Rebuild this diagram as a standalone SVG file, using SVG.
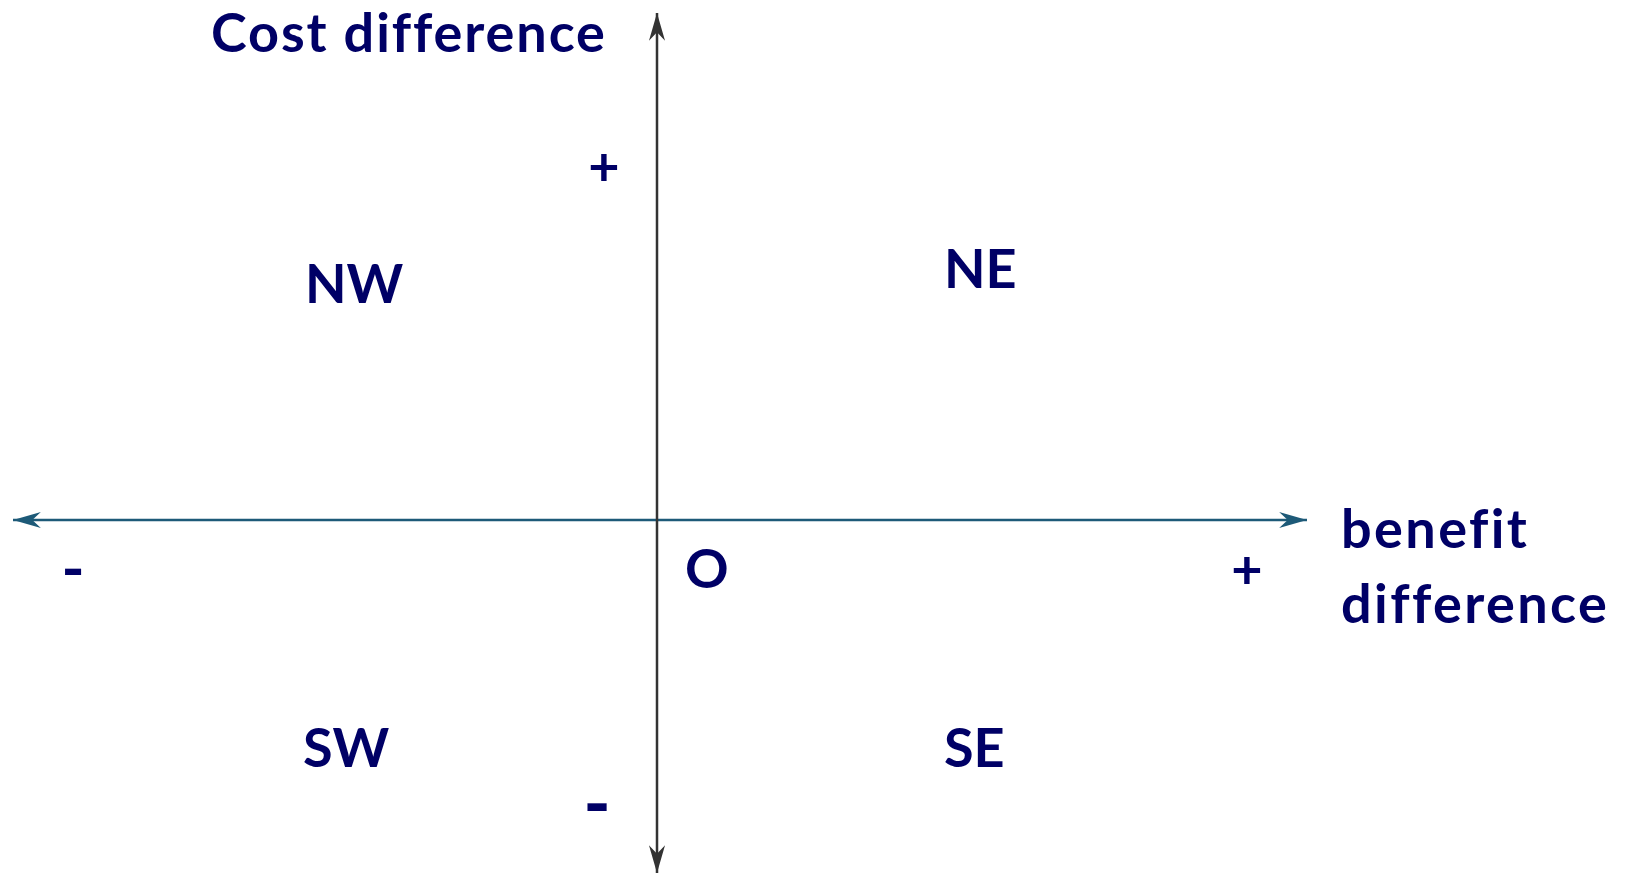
<svg xmlns="http://www.w3.org/2000/svg" width="1625" height="875" viewBox="0 0 1625 875">
<style>
.t{font-family:Lato,"Open Sans","Liberation Sans",sans-serif;font-weight:700;fill:#000066;font-variant-ligatures:none}
.big{font-size:54px}
.sp{letter-spacing:2.4px}
.sp2{letter-spacing:1.9px}
</style>
<defs>
<marker id="ag" markerUnits="userSpaceOnUse" markerWidth="30" markerHeight="20" viewBox="-26 -8 28 16" refX="0" refY="0" orient="auto-start-reverse">
<path d="M0,0 L-26,-7.5 L-18,0 L-26,7.5 Z" fill="#333333"/>
</marker>
<marker id="ab" markerUnits="userSpaceOnUse" markerWidth="30" markerHeight="20" viewBox="-26 -8 28 16" refX="0" refY="0" orient="auto-start-reverse">
<path d="M0,0 L-26,-7.5 L-18,0 L-26,7.5 Z" fill="#1d5a78"/>
</marker>
</defs>
<rect width="1625" height="875" fill="#ffffff"/>
<g id="connectors">
<line x1="13" y1="520" x2="1307" y2="520" stroke="#1d5a78" stroke-width="2.5" marker-start="url(#ab)" marker-end="url(#ab)"/>
<line x1="657" y1="13" x2="657" y2="873" stroke="#333333" stroke-width="2.5" marker-start="url(#ag)" marker-end="url(#ag)"/>
</g>
<g id="cost-label"><text class="t big sp2" x="211" y="52">Cost difference</text></g>
<g id="benefit-label"><text class="t big sp" x="1341" y="548">benefit</text><text class="t big sp" x="1341" y="623">difference</text></g>
<g id="plus-top"><text class="t big" x="604" y="186" text-anchor="middle">+</text></g>
<g id="minus-bottom"><text class="t" font-size="74" x="597" y="830" text-anchor="middle">-</text></g>
<g id="minus-left"><text class="t" font-size="62" x="73" y="590" text-anchor="middle">-</text></g>
<g id="plus-right"><text class="t big" x="1247" y="589" text-anchor="middle">+</text></g>
<g id="origin"><text class="t big" x="685" y="588">O</text></g>
<g id="NW"><text class="t big" x="305" y="303">NW</text></g>
<g id="NE"><text class="t big" x="944" y="288">NE</text></g>
<g id="SW"><text class="t big" x="303" y="767">SW</text></g>
<g id="SE"><text class="t big" x="944" y="767">SE</text></g>
</svg>
